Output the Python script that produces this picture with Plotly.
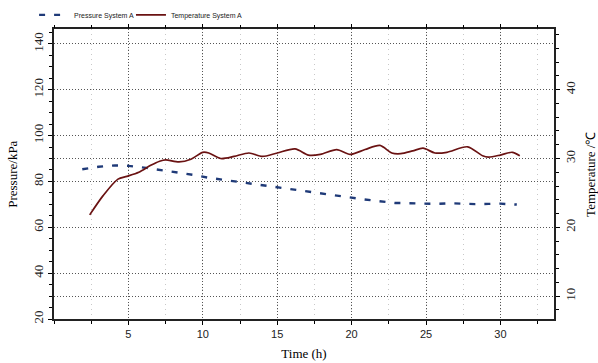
import plotly.graph_objects as go

# Pressure System A (kPa)
p_time = [1.9, 3.0, 4.1, 5.0, 6.2, 7.1, 8.1, 9.3, 10.4, 11.5, 12.5, 13.5, 14.5, 15.5, 16.5,
          17.5, 18.6, 19.7, 20.8, 21.8, 22.9, 23.8, 24.7, 25.7, 26.6, 27.4, 28.3, 29.2, 30.0, 31.1]
pressure = [85.3, 86.4, 87.0, 86.8, 85.9, 85.1, 83.9, 82.9, 81.6, 80.6, 79.8, 78.6, 77.9, 77.1, 76.0,
            75.1, 74.2, 73.2, 72.2, 71.4, 70.6, 70.5, 70.3, 70.2, 70.5, 70.3, 70.1, 70.2, 70.3, 69.9]

# Temperature System A (degC)
t_time = [2.4, 3.3, 4.3, 4.9, 5.7, 6.5, 7.1, 7.5, 8.4, 9.2, 10.0, 10.4, 11.2, 12.1, 13.1, 14.0,
          15.0, 16.2, 17.1, 17.9, 19.0, 19.9, 20.9, 21.9, 22.7, 23.3, 24.1, 24.8, 25.6, 26.4,
          27.8, 28.8, 29.2, 30.0, 30.8, 31.3]
temperature = [21.8, 24.6, 27.0, 27.4, 28.0, 29.0, 29.6, 29.8, 29.5, 29.9, 30.9, 30.8, 30.0, 30.3,
               30.8, 30.3, 30.8, 31.4, 30.5, 30.6, 31.3, 30.6, 31.3, 31.9, 30.8, 30.7, 31.1, 31.5,
               30.8, 30.9, 31.7, 30.4, 30.2, 30.5, 30.9, 30.4]

x_ticks = [5, 10, 15, 20, 25, 30]
p_ticks = [20, 40, 60, 80, 100, 120, 140]
t_ticks = [10, 20, 30, 40]

serif = "Times New Roman, Liberation Serif, serif"
sans = "Arial, Liberation Sans, sans-serif"
grid_dash = "1px,2px"

fig = go.Figure()
fig.add_trace(go.Scatter(x=p_time, y=pressure, name="Pressure System A", mode="lines",
                         line=dict(color="#1f3a78", width=2.4, dash="6px,9px"), yaxis="y",
                         legend="legend"))
fig.add_trace(go.Scatter(x=t_time, y=temperature, name="Temperature System A", mode="lines",
                         line=dict(color="#6a1212", width=1.7, shape="spline", smoothing=0.8),
                         yaxis="y2", legend="legend2"))

leg_common = dict(orientation="h", xanchor="left", xref="container", yref="container",
                  y=0.959, yanchor="middle",
                  font=dict(family=sans, size=7, color="#222"), itemwidth=30,
                  bgcolor="rgba(0,0,0,0)")

ymin, ymax = 20, 146.3
fig.update_layout(
    width=598, height=363,
    margin=dict(l=54, r=44, t=24, b=44),
    paper_bgcolor="white", plot_bgcolor="white",
    showlegend=True,
    legend=dict(x=0.057, **leg_common),
    legend2=dict(x=0.219, **leg_common),
    xaxis=dict(range=[0, 33.6], tickvals=x_ticks, ticks="outside", ticklen=4, tickwidth=1,
               tickcolor="black", showline=True, linecolor="#222", linewidth=1.5, mirror="ticks",
               showgrid=True, gridcolor="#555", griddash=grid_dash, gridwidth=1, zeroline=False,
               tickfont=dict(family=sans, size=11, color="#222"), automargin=False,
               title=dict(text="Time (h)", font=dict(family=serif, size=13, color="black"),
                          standoff=10),
               minor=dict(dtick=2.5, tick0=0, ticks="outside", ticklen=3, tickcolor="black",
                          showgrid=True, gridcolor="#c8c8c8", griddash="1px,4px")),
    yaxis=dict(range=[ymin, ymax], tickvals=p_ticks, ticks="outside", ticklen=4, tickwidth=1,
               tickcolor="black", tickangle=-90, showline=True, linecolor="#222", linewidth=1.5,
               showgrid=True, gridcolor="#555", griddash=grid_dash, zeroline=False,
               tickfont=dict(family=serif, size=13, color="#222"), automargin=False,
               title=dict(text="Pressure/kPa", font=dict(family=serif, size=13, color="black"),
                          standoff=10),
               minor=dict(dtick=5, tick0=0, ticks="outside", ticklen=3, tickcolor="black",
                          showgrid=False)),
    yaxis2=dict(range=[ymin / 3, ymax / 3], tickvals=t_ticks, overlaying="y", side="right",
                ticks="outside", ticklen=4, tickwidth=1, tickcolor="black", tickangle=-90,
                showline=True, linecolor="#222", linewidth=1.5,
                showgrid=True, gridcolor="#555", griddash=grid_dash, zeroline=False,
                tickfont=dict(family=serif, size=13, color="#222"), automargin=False,
                title=dict(text="Temperature /℃", font=dict(family=serif, size=13, color="black"),
                           standoff=10),
                minor=dict(dtick=2, tick0=0, ticks="outside", ticklen=3, tickcolor="black",
                           showgrid=False)),
)

fig.write_html("out.html")
